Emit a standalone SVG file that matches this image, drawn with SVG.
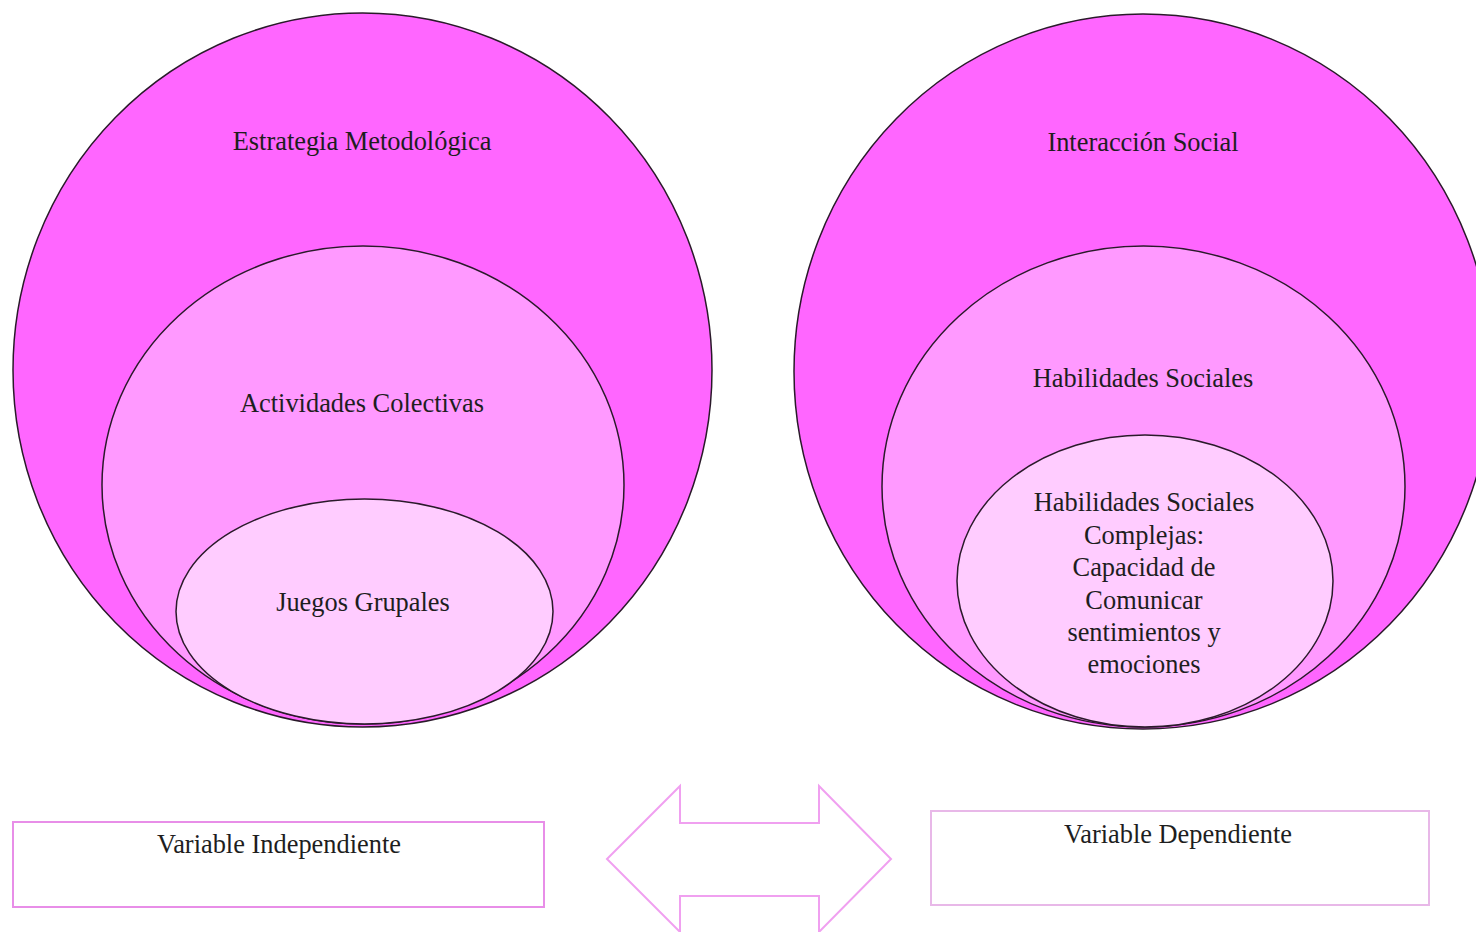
<svg xmlns="http://www.w3.org/2000/svg" width="1476" height="932" viewBox="0 0 1476 932">
<style>
.e{stroke:#2a1a2a;stroke-width:1.5}
.o{fill:#ff66ff}
.m{fill:#ff99ff}
.i{fill:#ffccff}
text{font-family:"Liberation Serif","Times New Roman",serif;font-size:26.4px;fill:#1e1e1e;text-anchor:middle}
.box{fill:#ffffff;stroke-width:2}
</style>
<rect width="1476" height="932" fill="#ffffff"/>
<g id="estrategia">
<ellipse class="e o" cx="362.5" cy="370" rx="349.5" ry="357"/>
<text x="362" y="150">Estrategia Metodológica</text>
</g>
<g id="actividades">
<ellipse class="e m" cx="363" cy="485" rx="261" ry="239"/>
<text x="362" y="412">Actividades Colectivas</text>
</g>
<g id="juegos">
<ellipse class="e i" cx="364.5" cy="611.5" rx="188.5" ry="112.5"/>
<text x="363" y="611">Juegos Grupales</text>
</g>
<g id="interaccion">
<ellipse class="e o" cx="1143" cy="371.5" rx="349" ry="357.5"/>
<text x="1143" y="151">Interacción Social</text>
</g>
<g id="habilidades">
<ellipse class="e m" cx="1143.5" cy="486.5" rx="261.5" ry="240.5"/>
<text x="1143" y="387">Habilidades Sociales</text>
</g>
<g id="complejas">
<ellipse class="e i" cx="1145" cy="581" rx="188" ry="146"/>
<text x="1144" y="511">Habilidades Sociales</text>
<text x="1144" y="544">Complejas:</text>
<text x="1144" y="576">Capacidad de</text>
<text x="1144" y="609">Comunicar</text>
<text x="1144" y="641">sentimientos y</text>
<text x="1144" y="673">emociones</text>
</g>
<g id="var-independiente">
<rect class="box" x="13" y="822" width="531" height="85" stroke="#e88ee8"/>
<text x="279" y="853">Variable Independiente</text>
</g>
<g id="var-dependiente">
<rect class="box" x="931" y="811" width="498" height="94" stroke="#e8b8e8"/>
<text x="1178" y="843">Variable Dependiente</text>
</g>
<g id="connectors">
<polygon points="607,859 680,786 680,823 819,823 819,786 891,859 819,932 819,896 680,896 680,932" fill="#ffffff" stroke="#f0a0f0" stroke-width="2"/>
</g>
</svg>
